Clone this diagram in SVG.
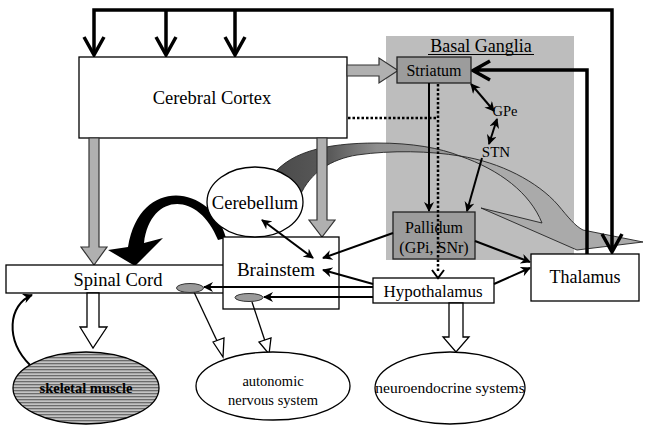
<svg xmlns="http://www.w3.org/2000/svg" width="653" height="431" viewBox="0 0 653 431">
<style>
.box{fill:#fff;stroke:#000;stroke-width:1.3}
.dbox{fill:#9c9c9c;stroke:#222;stroke-width:1.3}
.t{font-family:"Liberation Serif","Times New Roman",serif;fill:#000;text-anchor:middle}
.thick{fill:none;stroke:#000;stroke-width:3.5}
.thin{fill:none;stroke:#000;stroke-width:2}
.gblk{fill:#b0b0b0;stroke:#333;stroke-width:1.2}
.wblk{fill:#fff;stroke:#000;stroke-width:1.3}
</style>
<defs>
<marker id="ah" viewBox="0 0 10 10" refX="9" refY="5" markerWidth="5" markerHeight="5" orient="auto-start-reverse">
<path d="M0,0 L10,5 L0,10 L3,5 Z" fill="#000"/>
</marker>
<linearGradient id="band" x1="275" y1="0" x2="460" y2="0" gradientUnits="userSpaceOnUse">
<stop offset="0" stop-color="#4a4a4a"/>
<stop offset="0.3" stop-color="#5a5a5a"/>
<stop offset="0.55" stop-color="#8e8e8e"/>
<stop offset="1" stop-color="#9a9a9a"/>
</linearGradient>
<pattern id="stripes" width="4" height="3" patternUnits="userSpaceOnUse">
<rect width="4" height="3" fill="#c4c4c4"/>
<rect width="4" height="1.3" fill="#6c6c6c"/>
</pattern>
</defs>
<rect width="653" height="431" fill="#fff"/>

<g id="basal-ganglia">
<rect x="386" y="36" width="188" height="224" fill="#bdbdbd"/>
<text class="t" x="481" y="52" font-size="18">Basal Ganglia</text>
<line x1="428" y1="54.5" x2="534" y2="54.5" stroke="#000" stroke-width="1"/>
</g>

<g id="connectors-back">
<path d="M268 182 C285 152 325 143 377 143 C412 143 440 148 460 156 C430 151 392 150 357 155 C332 159 310 172 300 196 Z" fill="url(#band)" stroke="#222" stroke-width="0.9"/>
<path d="M460 156 C500 162 538 182 558 205 C568 217 575 226 583 230 L643 242 L577 250 L481 208 L542 223 C530 193 500 170 460 156 Z" fill="#aaaaaa" stroke="#222" stroke-width="0.9"/>
<path d="M226 238 C212 185 140 175 128 247 L108 250 L135 266 L163 238 L144 243 C150 193 198 190 218 240 Z" fill="#000"/>
<path class="thick" d="M94 55 V10 H612 V252 M166 10 V55 M235 10 V55"/>
<path class="thick" d="M84 37 L94 55 L104 37 M156 37 L166 55 L176 37 M225 37 L235 55 L245 37 M602 234 L612 252 L622 234"/>
<path class="thick" d="M587 254 V70 H474 M490 61 L473 70.5 L490 80"/>
</g>

<g id="cerebral-cortex">
<rect class="box" x="79" y="57" width="268" height="81"/>
<text class="t" x="212" y="104" font-size="18.5">Cerebral Cortex</text>
</g>

<g id="connectors-block">
<path class="gblk" d="M347 65 H379 V58 L398 70.5 L379 83 V76 H347 Z"/>
<path class="gblk" d="M89 138 H99 V247 H107 L94 265 L81 247 H89 Z"/>
<path class="gblk" d="M317 138 H327 V220 H335 L322 237 L309 220 H317 Z"/>
</g>

<g id="spinal-cord">
<rect class="box" x="6" y="265" width="218" height="28"/>
<text class="t" x="118" y="286" font-size="18.5">Spinal Cord</text>
</g>

<g id="brainstem">
<rect class="box" x="223" y="237" width="116" height="72"/>
<text class="t" x="276" y="276" font-size="19">Brainstem</text>
</g>

<g id="cerebellum">
<ellipse cx="255" cy="202" rx="48" ry="35" fill="#fff" stroke="#000" stroke-width="1.3"/>
<text class="t" x="255" y="209" font-size="18.5">Cerebellum</text>
</g>

<g id="striatum">
<rect class="dbox" x="397" y="57" width="74" height="26"/>
<text class="t" x="434" y="76" font-size="16">Striatum</text>
</g>

<g id="gpe"><text class="t" x="505" y="116" font-size="14.5">GPe</text></g>
<g id="stn"><text class="t" x="496" y="157" font-size="15">STN</text></g>

<g id="pallidum">
<rect class="dbox" x="393" y="212" width="82" height="47"/>
<text class="t" x="434" y="233" font-size="16">Pallidum</text>
<text class="t" x="434" y="253" font-size="16">(GPi, SNr)</text>
</g>

<g id="hypothalamus">
<rect class="box" x="373" y="278" width="121" height="25"/>
<text class="t" x="433" y="297" font-size="17">Hypothalamus</text>
</g>

<g id="thalamus">
<rect class="box" x="531" y="254" width="108" height="47"/>
<text class="t" x="585" y="283" font-size="18">Thalamus</text>
</g>

<g id="connectors">
<path d="M348 118 H438" fill="none" stroke="#000" stroke-width="2.5" stroke-dasharray="2.5 2"/>
<path d="M438 84 V272" fill="none" stroke="#000" stroke-width="2.5" stroke-dasharray="2.5 2"/>
<path d="M432 270 L438 278 L444 270" fill="none" stroke="#000" stroke-width="2"/>
<line class="thin" x1="429" y1="83" x2="429" y2="211" marker-end="url(#ah)"/>
<line class="thin" x1="471" y1="84" x2="494" y2="111" marker-start="url(#ah)" marker-end="url(#ah)"/>
<line class="thin" x1="497" y1="119" x2="489" y2="144" marker-start="url(#ah)" marker-end="url(#ah)"/>
<line class="thin" x1="482" y1="158" x2="467" y2="211" marker-end="url(#ah)"/>
<line class="thin" x1="475" y1="241" x2="530" y2="262" marker-end="url(#ah)"/>
<line class="thin" x1="494" y1="284" x2="530" y2="268" marker-end="url(#ah)"/>
<line class="thin" x1="393" y1="233" x2="323" y2="258" marker-end="url(#ah)"/>
<line class="thin" x1="373" y1="284" x2="323" y2="270" marker-end="url(#ah)"/>
<line class="thin" x1="262" y1="220" x2="313" y2="258" marker-start="url(#ah)" marker-end="url(#ah)"/>
<line class="thin" x1="373" y1="287" x2="204" y2="287" stroke-width="2.5" marker-end="url(#ah)"/>
<line class="thin" x1="373" y1="297" x2="264" y2="297" stroke-width="2.5" marker-end="url(#ah)"/>
<path class="thin" d="M30 365 C5 340 8 305 32 295" marker-end="url(#ah)"/>
<line x1="194" y1="292" x2="218" y2="343" stroke="#000" stroke-width="1.3"/>
<path class="wblk" d="M213 342 L223 357 L224 338 Z"/>
<line x1="252" y1="302" x2="265" y2="341" stroke="#000" stroke-width="1.3"/>
<path class="wblk" d="M259 342 L269 354 L271 338 Z"/>
<path class="wblk" d="M87 293 H99 V327 H107 L93 348 L80 327 H87 Z"/>
<path class="wblk" d="M449 303 H463 V337 H469 L456 352 L443 337 H449 Z"/>
</g>

<g id="small-ellipses">
<ellipse cx="190" cy="288" rx="13.5" ry="4.5" fill="#9a9a9a" stroke="#333" stroke-width="1"/>
<ellipse cx="249" cy="297.5" rx="14" ry="4" fill="#9a9a9a" stroke="#333" stroke-width="1"/>
</g>

<g id="skeletal-muscle">
<ellipse cx="86" cy="388" rx="73" ry="36" fill="url(#stripes)" stroke="#000" stroke-width="1.3"/>
<text class="t" x="86" y="393" font-size="14.5" font-weight="bold">skeletal muscle</text>
</g>

<g id="autonomic">
<ellipse cx="273" cy="386" rx="77" ry="34" fill="#fff" stroke="#000" stroke-width="1.3"/>
<text class="t" x="273" y="386" font-size="14.5">autonomic</text>
<text class="t" x="273" y="405" font-size="14.5">nervous system</text>
</g>

<g id="neuroendocrine">
<ellipse cx="450" cy="388" rx="75" ry="36" fill="#fff" stroke="#000" stroke-width="1.3"/>
<text class="t" x="450" y="393" font-size="15.5">neuroendocrine systems</text>
</g>
</svg>
